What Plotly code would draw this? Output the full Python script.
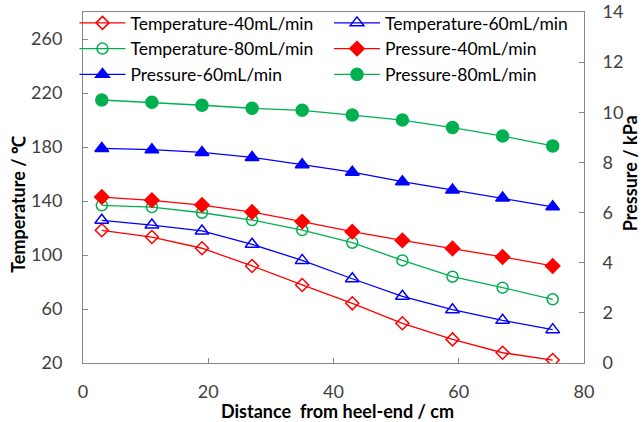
import plotly.graph_objects as go

distance = [3, 11, 19, 27, 35, 43, 51, 59, 67, 75]

temp_40 = [118.3, 113.3, 105.0, 91.9, 77.8, 64.2, 49.4, 37.5, 27.6, 22.2]
temp_60 = [125.7, 122.2, 117.8, 107.9, 96.0, 82.4, 69.4, 59.5, 51.6, 44.7]
temp_80 = [136.8, 135.5, 131.3, 125.9, 118.5, 109.1, 96.0, 83.9, 75.8, 67.2]

pres_40 = [6.62, 6.49, 6.30, 6.02, 5.64, 5.24, 4.89, 4.57, 4.23, 3.87]
pres_60 = [8.56, 8.51, 8.40, 8.20, 7.91, 7.61, 7.23, 6.90, 6.58, 6.23]
pres_80 = [10.49, 10.40, 10.28, 10.16, 10.08, 9.89, 9.69, 9.39, 9.05, 8.66]

x_title = "Distance  from heel-end / cm"
y_title = "Temperature / ℃"
y2_title = "Pressure / kPa"

RED = "#FF0000"
BLUE = "#0000FF"
GREEN = "#00B050"
AXIS = "#868686"
TICKFONT = dict(family="Lato", size=18, color="#404040")
TITLEFONT = dict(family="Lato", size=18, color="#000000", weight="bold")

series = [
    ("Temperature-40mL/min", temp_40, "y", RED, "diamond-open", 10, "legend"),
    ("Temperature-60mL/min", temp_60, "y", BLUE, "triangle-up-open", 12, "legend2"),
    ("Temperature-80mL/min", temp_80, "y", GREEN, "circle-open", 11, "legend"),
    ("Pressure-40mL/min", pres_40, "y2", RED, "diamond", 11, "legend2"),
    ("Pressure-60mL/min", pres_60, "y2", BLUE, "triangle-up", 12, "legend"),
    ("Pressure-80mL/min", pres_80, "y2", GREEN, "circle", 12, "legend2"),
]

fig = go.Figure()
for name, vals, yax, color, sym, size, leg in series:
    fig.add_trace(go.Scatter(
        x=distance, y=vals, name=name, yaxis=yax, mode="lines+markers",
        line=dict(color=color, width=1.3),
        marker=dict(symbol=sym, size=size, color=color,
                    line=dict(color=color, width=1.5)),
        legend=leg,
    ))

legend_common = dict(
    font=dict(family="Lato", size=17.5, color="#000000"),
    bgcolor="rgba(0,0,0,0)", borderwidth=0,
    yanchor="top", y=1.02, xanchor="left", tracegroupgap=0,
    itemwidth=46,
)

fig.update_layout(
    width=644, height=422,
    margin=dict(l=83, r=60, t=12, b=59, autoexpand=False),
    paper_bgcolor="white", plot_bgcolor="white",
    showlegend=True,
    legend=dict(x=-0.017, **legend_common),
    legend2=dict(x=0.491, **legend_common),
    xaxis=dict(
        range=[0, 80], dtick=20, tick0=0, automargin=False,
        showline=True, linecolor=AXIS, linewidth=1, mirror=True,
        ticks="inside", ticklen=5, tickcolor=AXIS,
        showgrid=False, zeroline=False,
        tickfont=TICKFONT, ticklabelstandoff=12,
    ),
    yaxis=dict(
        range=[20, 280], tickvals=[20, 60, 100, 140, 180, 220, 260],
        automargin=False,
        showline=True, linecolor=AXIS, linewidth=1,
        ticks="inside", ticklen=5, tickcolor=AXIS,
        showgrid=False, zeroline=False,
        tickfont=TICKFONT, ticklabelstandoff=16,
    ),
    yaxis2=dict(
        range=[0, 14], dtick=2, tick0=0, automargin=False,
        overlaying="y", side="right",
        showline=True, linecolor=AXIS, linewidth=1,
        ticks="inside", ticklen=5, tickcolor=AXIS,
        showgrid=False, zeroline=False,
        tickfont=TICKFONT, ticklabelstandoff=14,
    ),
    annotations=[
        dict(text=x_title, xref="paper", yref="paper", x=0.507, y=-0.137,
             xanchor="center", yanchor="middle", showarrow=False, font=TITLEFONT),
        dict(text=y_title, xref="paper", yref="paper", x=-0.13, y=0.453,
             xanchor="center", yanchor="middle", showarrow=False, textangle=-90,
             font=TITLEFONT),
        dict(text=y2_title, xref="paper", yref="paper", x=1.092, y=0.541,
             xanchor="center", yanchor="middle", showarrow=False, textangle=-90,
             font=TITLEFONT),
    ],
)

fig.write_html("out.html", config={"displayModeBar": False},
               post_script="document.body.style.margin='0';")
